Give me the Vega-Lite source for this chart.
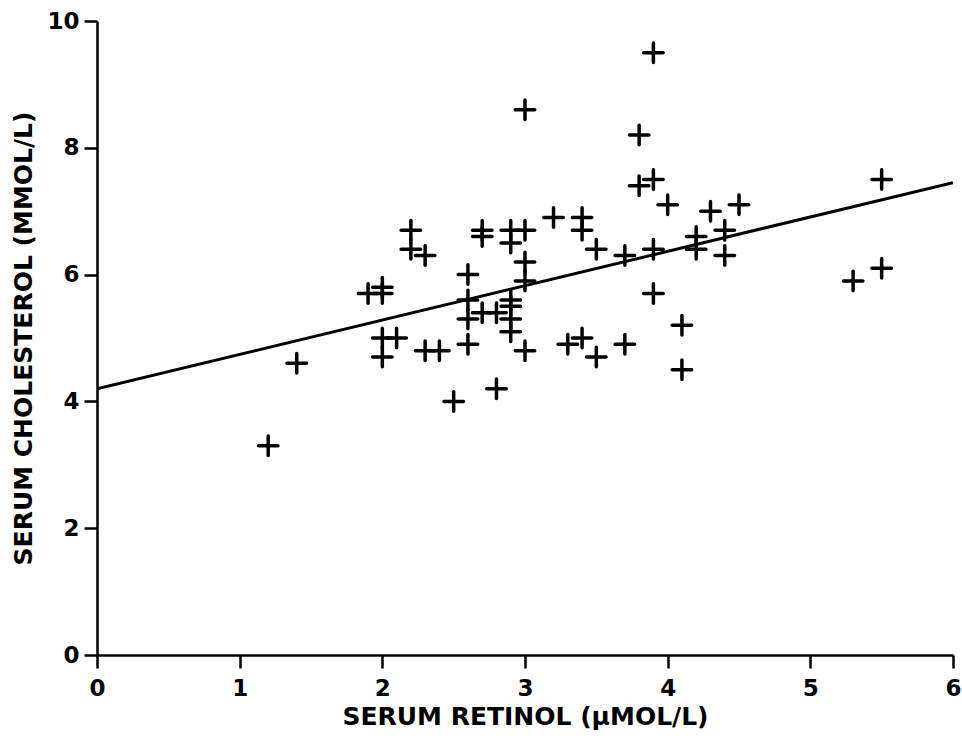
{
  "$schema": "https://vega.github.io/schema/vega-lite/v6.json",
  "autosize": {"type": "none"},
  "width": 856,
  "height": 634,
  "padding": {"left": 97, "top": 21, "right": 9, "bottom": 91},
  "background": "white",
  "config": {
    "view": {"stroke": null},
    "font": "DejaVu Sans",
    "axis": {
      "grid": false,
      "labelFlush": false,
      "labelOverlap": false,
      "domainColor": "black",
      "domainWidth": 2.5,
      "tickColor": "black",
      "tickWidth": 2.5,
      "tickSize": 13,
      "labelColor": "black",
      "labelFont": "DejaVu Sans",
      "labelFontWeight": "bold",
      "labelFontSize": 23,
      "titleColor": "black",
      "titleFont": "DejaVu Sans",
      "titleFontWeight": "bold",
      "titleFontSize": 25
    }
  },
  "datasets": {
    "subjects": [
      {"retinol": 1.2, "cholesterol": 3.3},
      {"retinol": 1.4, "cholesterol": 4.6},
      {"retinol": 1.9, "cholesterol": 5.7},
      {"retinol": 2.0, "cholesterol": 5.8},
      {"retinol": 2.0, "cholesterol": 5.7},
      {"retinol": 2.0, "cholesterol": 5.0},
      {"retinol": 2.1, "cholesterol": 5.0},
      {"retinol": 2.0, "cholesterol": 4.7},
      {"retinol": 2.2, "cholesterol": 6.7},
      {"retinol": 2.2, "cholesterol": 6.4},
      {"retinol": 2.3, "cholesterol": 6.3},
      {"retinol": 2.3, "cholesterol": 4.8},
      {"retinol": 2.4, "cholesterol": 4.8},
      {"retinol": 2.5, "cholesterol": 4.0},
      {"retinol": 2.6, "cholesterol": 6.0},
      {"retinol": 2.6, "cholesterol": 5.6},
      {"retinol": 2.6, "cholesterol": 5.3},
      {"retinol": 2.6, "cholesterol": 4.9},
      {"retinol": 2.7, "cholesterol": 6.7},
      {"retinol": 2.7, "cholesterol": 6.6},
      {"retinol": 2.7, "cholesterol": 5.4},
      {"retinol": 2.8, "cholesterol": 5.4},
      {"retinol": 2.8, "cholesterol": 4.2},
      {"retinol": 2.9, "cholesterol": 6.7},
      {"retinol": 2.9, "cholesterol": 6.5},
      {"retinol": 2.9, "cholesterol": 5.6},
      {"retinol": 2.9, "cholesterol": 5.5},
      {"retinol": 2.9, "cholesterol": 5.3},
      {"retinol": 2.9, "cholesterol": 5.1},
      {"retinol": 3.0, "cholesterol": 8.6},
      {"retinol": 3.0, "cholesterol": 6.7},
      {"retinol": 3.0, "cholesterol": 6.2},
      {"retinol": 3.0, "cholesterol": 5.9},
      {"retinol": 3.0, "cholesterol": 4.8},
      {"retinol": 3.2, "cholesterol": 6.9},
      {"retinol": 3.3, "cholesterol": 4.9},
      {"retinol": 3.4, "cholesterol": 6.9},
      {"retinol": 3.4, "cholesterol": 6.7},
      {"retinol": 3.4, "cholesterol": 5.0},
      {"retinol": 3.5, "cholesterol": 6.4},
      {"retinol": 3.5, "cholesterol": 4.7},
      {"retinol": 3.7, "cholesterol": 6.3},
      {"retinol": 3.7, "cholesterol": 4.9},
      {"retinol": 3.8, "cholesterol": 8.2},
      {"retinol": 3.8, "cholesterol": 7.4},
      {"retinol": 3.9, "cholesterol": 9.5},
      {"retinol": 3.9, "cholesterol": 7.5},
      {"retinol": 3.9, "cholesterol": 6.4},
      {"retinol": 3.9, "cholesterol": 5.7},
      {"retinol": 4.0, "cholesterol": 7.1},
      {"retinol": 4.1, "cholesterol": 5.2},
      {"retinol": 4.1, "cholesterol": 4.5},
      {"retinol": 4.2, "cholesterol": 6.6},
      {"retinol": 4.2, "cholesterol": 6.4},
      {"retinol": 4.3, "cholesterol": 7.0},
      {"retinol": 4.4, "cholesterol": 6.7},
      {"retinol": 4.4, "cholesterol": 6.3},
      {"retinol": 4.5, "cholesterol": 7.1},
      {"retinol": 5.3, "cholesterol": 5.9},
      {"retinol": 5.5, "cholesterol": 7.5},
      {"retinol": 5.5, "cholesterol": 6.1}
    ],
    "fit": [
      {"retinol": 0, "cholesterol": 4.2},
      {"retinol": 6, "cholesterol": 7.45}
    ]
  },
  "layer": [
    {
      "data": {"name": "fit"},
      "mark": {"type": "line", "color": "black", "strokeWidth": 3, "clip": true},
      "encoding": {
        "x": {
          "field": "retinol",
          "type": "quantitative",
          "scale": {"domain": [0, 6], "nice": false},
          "axis": {
            "values": [0, 1, 2, 3, 4, 5, 6],
            "format": "d",
            "title": "SERUM RETINOL (µMOL/L)",
            "labelPadding": 9,
            "titlePadding": 4
          }
        },
        "y": {
          "field": "cholesterol",
          "type": "quantitative",
          "scale": {"domain": [0, 10], "nice": false},
          "axis": {
            "values": [0, 2, 4, 6, 8, 10],
            "format": "d",
            "title": "SERUM CHOLESTEROL (MMOL/L)",
            "labelPadding": 5,
            "titlePadding": 10
          }
        }
      }
    },
    {
      "data": {"name": "subjects"},
      "mark": {
        "type": "point",
        "shape": "M-1,0L1,0M0,-1L0,1",
        "size": 380,
        "filled": false,
        "stroke": "black",
        "strokeWidth": 3.5,
        "strokeCap": "round",
        "opacity": 1
      },
      "encoding": {
        "x": {"field": "retinol", "type": "quantitative"},
        "y": {"field": "cholesterol", "type": "quantitative"}
      }
    }
  ]
}
